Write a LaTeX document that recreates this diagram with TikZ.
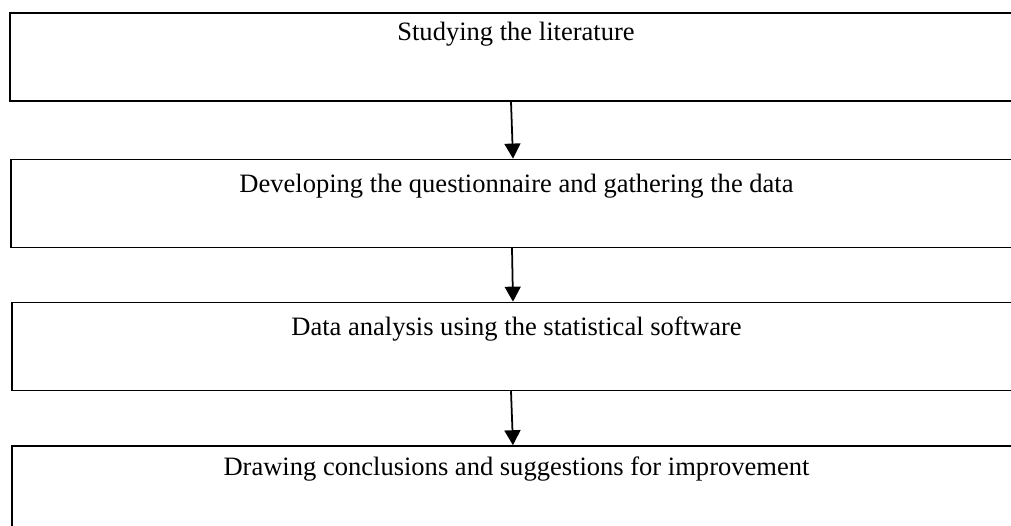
\documentclass[tikz,border=0pt]{standalone}
\usepackage{fontspec}
\setmainfont{Liberation Serif}
\usetikzlibrary{arrows.meta, positioning}

\begin{document}
\begin{tikzpicture}[
    stepbox/.style={rectangle, draw=black, line width=0.9pt, minimum width=20.5cm, minimum height=1.76cm, anchor=north west, inner sep=0pt},
    steptext/.style={anchor=base, font=\fontsize{15.1}{18}\selectfont, inner sep=0pt},
    arrow/.style={-{Triangle[width=0.32cm, length=0.3cm]}, line width=1pt, black}
]
\useasboundingbox (0,0) rectangle (20.22,-10.52);

% Boxes
\node[stepbox] (lit) at (0.18,-0.24) {};
\node[stepbox, below=1.14cm of lit.south west, anchor=north west, xshift=0.02cm] (quest) {};
\node[stepbox, below=1.07cm of quest.south west, anchor=north west, xshift=0.02cm] (analysis) {};
\node[stepbox, below=1.08cm of analysis.south west, anchor=north west, minimum height=2.2cm] (concl) {};

% Texts
\node[steptext] (litT) at (10.32,-0.82) {Studying the literature};
\node[steptext] (questT) at (10.33,-3.86) {Developing the questionnaire and gathering the data};
\node[steptext] (analysisT) at (10.33,-6.72) {Data analysis using the statistical software};
\node[steptext] (conclT) at (10.33,-9.52) {Drawing conclusions and suggestions for improvement};

% Arrows
\draw[arrow] (lit.south -| 10.22,0) -- (quest.north -| 10.26,0);
\draw[arrow] (quest.south -| 10.24,0) -- (analysis.north -| 10.26,0);
\draw[arrow] (analysis.south -| 10.22,0) -- (concl.north -| 10.26,0);

\end{tikzpicture}
\end{document}
